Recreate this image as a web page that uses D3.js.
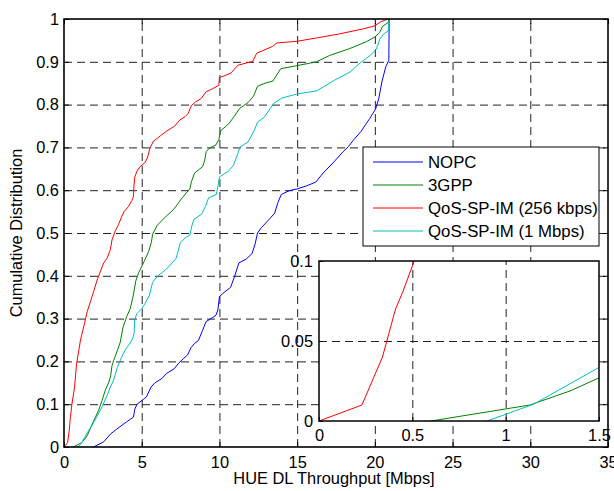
<!DOCTYPE html>
<html><head><meta charset="utf-8">
<script src="https://cdn.jsdelivr.net/npm/d3@7"></script>
<style>
body{margin:0;background:#fff;}
text{font-family:Arial,"Liberation Sans",Helvetica,sans-serif;}
</style></head><body>
<svg id="chart" width="614" height="491"></svg>
<script>
// ---------------- data ----------------
const xTicks = [0, 5, 10, 15, 20, 25, 30, 35];
const yTicks = [0, 0.1, 0.2, 0.3, 0.4, 0.5, 0.6, 0.7, 0.8, 0.9, 1];
const insetXTicks = [0, 0.5, 1, 1.5];
const insetYTicks = [0, 0.05, 0.1];
const seriesNames = ["NOPC", "3GPP", "QoS-SP-IM (256 kbps)", "QoS-SP-IM (1 Mbps)"];
const xLabel = "HUE DL Throughput [Mbps]";
const yLabel = "Cumulative Distribution";

// [throughput Mbps, cumulative probability]
const nopc = [[1.9,0],[2.55,0.012],[2.98,0.03],[3.4,0.042],[4.04,0.059],[4.47,0.07],[4.55,0.088],[4.7,0.1],[5.3,0.117],[5.6,0.14],[5.85,0.15],[6.3,0.16],[6.6,0.172],[7.1,0.183],[7.4,0.197],[7.7,0.207],[7.95,0.215],[8.17,0.232],[8.4,0.242],[8.65,0.249],[8.92,0.273],[9.14,0.293],[9.46,0.3],[9.78,0.308],[9.9,0.32],[10.0,0.351],[10.22,0.359],[10.72,0.373],[10.97,0.398],[11.25,0.43],[11.72,0.439],[12.1,0.452],[12.3,0.475],[12.45,0.5],[12.69,0.512],[13.15,0.53],[13.55,0.546],[13.76,0.571],[13.98,0.59],[14.5,0.599],[15.0,0.603],[15.6,0.61],[16.2,0.619],[16.67,0.64],[17.31,0.664],[17.96,0.69],[18.3,0.702],[18.6,0.716],[19.1,0.737],[19.68,0.768],[20.05,0.79],[20.25,0.814],[20.45,0.853],[20.7,0.888],[20.9,0.904],[20.92,1.0]];
const gpp3 = [[0.6,0],[1.13,0.01],[1.35,0.019],[1.5,0.027],[1.75,0.048],[1.95,0.064],[2.23,0.086],[2.45,0.109],[2.66,0.133],[2.87,0.15],[3.0,0.166],[3.09,0.19],[3.2,0.203],[3.4,0.222],[3.62,0.245],[3.8,0.28],[4.04,0.305],[4.26,0.323],[4.45,0.353],[4.62,0.388],[4.8,0.407],[5.15,0.433],[5.45,0.457],[5.62,0.478],[5.7,0.497],[6.0,0.518],[6.45,0.535],[7.03,0.554],[7.4,0.572],[7.6,0.582],[8.02,0.6],[8.1,0.603],[8.2,0.62],[8.4,0.64],[8.92,0.655],[9.05,0.67],[9.15,0.69],[9.35,0.698],[9.78,0.706],[9.96,0.718],[10.08,0.739],[10.6,0.755],[10.9,0.77],[11.3,0.791],[11.85,0.805],[12.2,0.82],[12.45,0.843],[12.94,0.85],[13.44,0.855],[13.95,0.884],[15.0,0.891],[16.24,0.9],[17.1,0.915],[18.39,0.931],[19.46,0.947],[20.0,0.958],[20.3,0.968],[20.5,0.983],[20.86,0.992],[20.9,1.0]];
const qos256 = [[0,0],[0.23,0.01],[0.34,0.04],[0.41,0.07],[0.45,0.081],[0.51,0.1],[0.68,0.14],[0.81,0.195],[0.96,0.227],[1.06,0.25],[1.32,0.289],[1.49,0.316],[1.72,0.342],[1.87,0.359],[2.13,0.39],[2.3,0.406],[2.55,0.43],[2.77,0.441],[2.98,0.461],[3.09,0.484],[3.3,0.505],[3.51,0.52],[3.72,0.539],[3.87,0.55],[4.15,0.562],[4.36,0.576],[4.47,0.585],[4.5,0.61],[4.55,0.63],[4.7,0.645],[4.89,0.655],[5.2,0.664],[5.36,0.675],[5.53,0.698],[5.74,0.714],[6.2,0.727],[6.6,0.738],[7.13,0.75],[7.45,0.764],[7.8,0.772],[8.0,0.78],[8.2,0.798],[8.45,0.806],[8.82,0.814],[9.14,0.83],[9.5,0.836],[9.96,0.845],[10.0,0.863],[10.43,0.869],[10.75,0.874],[11.18,0.892],[12.15,0.901],[12.4,0.92],[13.42,0.936],[13.7,0.944],[15.0,0.948],[16.3,0.956],[17.7,0.965],[19.25,0.977],[20.0,0.984],[20.4,0.994],[20.86,1.0]];
const qos1m = [[0.9,0],[1.15,0.0105],[1.5,0.0335],[1.81,0.051],[2.13,0.072],[2.45,0.094],[2.77,0.12],[2.98,0.14],[3.19,0.156],[3.42,0.185],[3.72,0.211],[3.94,0.227],[4.2,0.24],[4.4,0.252],[4.51,0.266],[4.55,0.297],[4.68,0.311],[5.0,0.323],[5.21,0.335],[5.5,0.355],[5.7,0.385],[6.04,0.4],[6.6,0.416],[7.2,0.44],[7.34,0.457],[7.48,0.478],[7.85,0.49],[8.1,0.495],[8.22,0.516],[8.36,0.532],[8.85,0.544],[9.1,0.562],[9.3,0.582],[9.8,0.59],[9.9,0.608],[10.0,0.631],[10.6,0.645],[10.9,0.658],[11.15,0.682],[11.33,0.701],[11.85,0.713],[12.27,0.742],[12.45,0.759],[12.9,0.771],[13.25,0.79],[13.5,0.803],[14.0,0.815],[15.0,0.825],[16.25,0.832],[16.68,0.841],[17.4,0.857],[18.4,0.876],[19.04,0.897],[19.7,0.915],[20.1,0.93],[20.32,0.953],[20.6,0.966],[20.86,0.972],[20.92,1.0]];

// ---------------- styles ----------------
const series = [nopc, gpp3, qos256, qos1m];
const colors = ["#0000ff", "#008000", "#ff0000", "#00bfbf"];
const FONT = 16.4;
const LEGFONT = 16.8;
const gridColor = "#222";
const dash = "8,5";

const svg = d3.select("#chart");
svg.append("rect").attr("width", 614).attr("height", 491).attr("fill", "#fff");

const M = {l: 64, r: 608, t: 19, b: 447};
const x = d3.scaleLinear().domain([0, 35]).range([M.l, M.r]);
const y = d3.scaleLinear().domain([0, 1]).range([M.b, M.t]);

function styleAxis(g) {
  g.selectAll(".domain").remove();
  g.selectAll("text").attr("font-size", FONT).attr("fill", "#000")
    .attr("font-family", "Arial, 'Liberation Sans', sans-serif");
  g.selectAll("line").attr("stroke", "#000");
}

// grid
const grid = svg.append("g");
grid.append("g").attr("transform", `translate(0,${M.b})`)
  .call(d3.axisBottom(x).tickValues(xTicks.slice(1, -1)).tickSize(-(M.b - M.t)).tickFormat(""));
grid.append("g").attr("transform", `translate(${M.l},0)`)
  .call(d3.axisLeft(y).tickValues(yTicks.slice(1, -1)).tickSize(-(M.r - M.l)).tickFormat(""));
grid.selectAll(".domain").remove();
grid.selectAll("line").attr("stroke", gridColor).attr("stroke-dasharray", dash);

// axes (inward ticks)
const ax = svg.append("g");
const gB = ax.append("g").attr("transform", `translate(0,${M.b})`)
  .call(d3.axisBottom(x).tickValues(xTicks).tickSize(-5).tickPadding(9).tickFormat(d3.format("~g")));
const gL = ax.append("g").attr("transform", `translate(${M.l},0)`)
  .call(d3.axisLeft(y).tickValues(yTicks).tickSize(-5).tickPadding(5).tickFormat(d3.format("~g")));
const gT = ax.append("g").attr("transform", `translate(0,${M.t})`)
  .call(d3.axisTop(x).tickValues(xTicks).tickSize(-5).tickFormat(""));
const gR = ax.append("g").attr("transform", `translate(${M.r},0)`)
  .call(d3.axisRight(y).tickValues(yTicks).tickSize(-5).tickFormat(""));
[gB, gL, gT, gR].forEach(styleAxis);

// curves
svg.append("clipPath").attr("id", "mainClip").append("rect")
  .attr("x", M.l).attr("y", M.t - 1).attr("width", M.r - M.l).attr("height", M.b - M.t + 2);
const line = d3.line().x(d => x(d[0])).y(d => y(d[1]));
const curves = svg.append("g").attr("clip-path", "url(#mainClip)");
series.forEach((s, i) => {
  curves.append("path").attr("d", line(s)).attr("fill", "none")
    .attr("stroke", colors[i]).attr("stroke-width", 1);
});

// border
svg.append("rect").attr("x", M.l).attr("y", M.t).attr("width", M.r - M.l).attr("height", M.b - M.t)
  .attr("fill", "none").attr("stroke", "#000").attr("stroke-width", 1.6);

// axis labels
svg.append("text").attr("x", (M.l + M.r) / 2 - 2).attr("y", 484).attr("text-anchor", "middle")
  .attr("font-size", FONT).text(xLabel);
svg.append("text").attr("transform", `translate(22,${(M.t + M.b) / 2}) rotate(-90)`)
  .attr("text-anchor", "middle").attr("font-size", FONT).text(yLabel);

// legend
const L = {x: 363, y: 147, w: 236, h: 99};
const leg = svg.append("g");
leg.append("rect").attr("x", L.x).attr("y", L.y).attr("width", L.w).attr("height", L.h)
  .attr("fill", "#fff").attr("stroke", "#000").attr("stroke-width", 1);
seriesNames.forEach((n, i) => {
  const yy = L.y + 15 + i * 23;
  leg.append("line").attr("x1", L.x + 10).attr("x2", L.x + 60).attr("y1", yy).attr("y2", yy)
    .attr("stroke", colors[i]).attr("stroke-width", 1);
  leg.append("text").attr("x", L.x + 65).attr("y", yy).attr("dy", "0.35em")
    .attr("font-size", LEGFONT).text(n);
});

// inset
const I = {l: 319, r: 599, t: 261, b: 421};
const ix = d3.scaleLinear().domain([0, 1.5]).range([I.l, I.r]);
const iy = d3.scaleLinear().domain([0, 0.1]).range([I.b, I.t]);
const ins = svg.append("g");
ins.append("rect").attr("x", I.l).attr("y", I.t).attr("width", I.r - I.l).attr("height", I.b - I.t).attr("fill", "#fff");
const ig = ins.append("g");
ig.append("g").attr("transform", `translate(0,${I.b})`)
  .call(d3.axisBottom(ix).tickValues(insetXTicks.slice(1, -1)).tickSize(-(I.b - I.t)).tickFormat(""));
ig.append("g").attr("transform", `translate(${I.l},0)`)
  .call(d3.axisLeft(iy).tickValues(insetYTicks.slice(1, -1)).tickSize(-(I.r - I.l)).tickFormat(""));
ig.selectAll(".domain").remove();
ig.selectAll("line").attr("stroke", gridColor).attr("stroke-dasharray", dash);

svg.append("clipPath").attr("id", "insClip").append("rect")
  .attr("x", I.l).attr("y", I.t).attr("width", I.r - I.l).attr("height", I.b - I.t);
const iline = d3.line().x(d => ix(d[0])).y(d => iy(d[1]));
const icurves = ins.append("g").attr("clip-path", "url(#insClip)");
series.forEach((s, i) => {
  icurves.append("path").attr("d", iline(s)).attr("fill", "none")
    .attr("stroke", colors[i]).attr("stroke-width", 1);
});
const iB = ins.append("g").attr("transform", `translate(0,${I.b})`)
  .call(d3.axisBottom(ix).tickValues(insetXTicks).tickSize(-4).tickPadding(8).tickFormat(d3.format("~g")));
const iL = ins.append("g").attr("transform", `translate(${I.l},0)`)
  .call(d3.axisLeft(iy).tickValues(insetYTicks).tickSize(-4).tickPadding(6).tickFormat(d3.format("~g")));
[iB, iL].forEach(styleAxis);
ins.append("rect").attr("x", I.l).attr("y", I.t).attr("width", I.r - I.l).attr("height", I.b - I.t)
  .attr("fill", "none").attr("stroke", "#000").attr("stroke-width", 1.5);
</script>
</body></html>
